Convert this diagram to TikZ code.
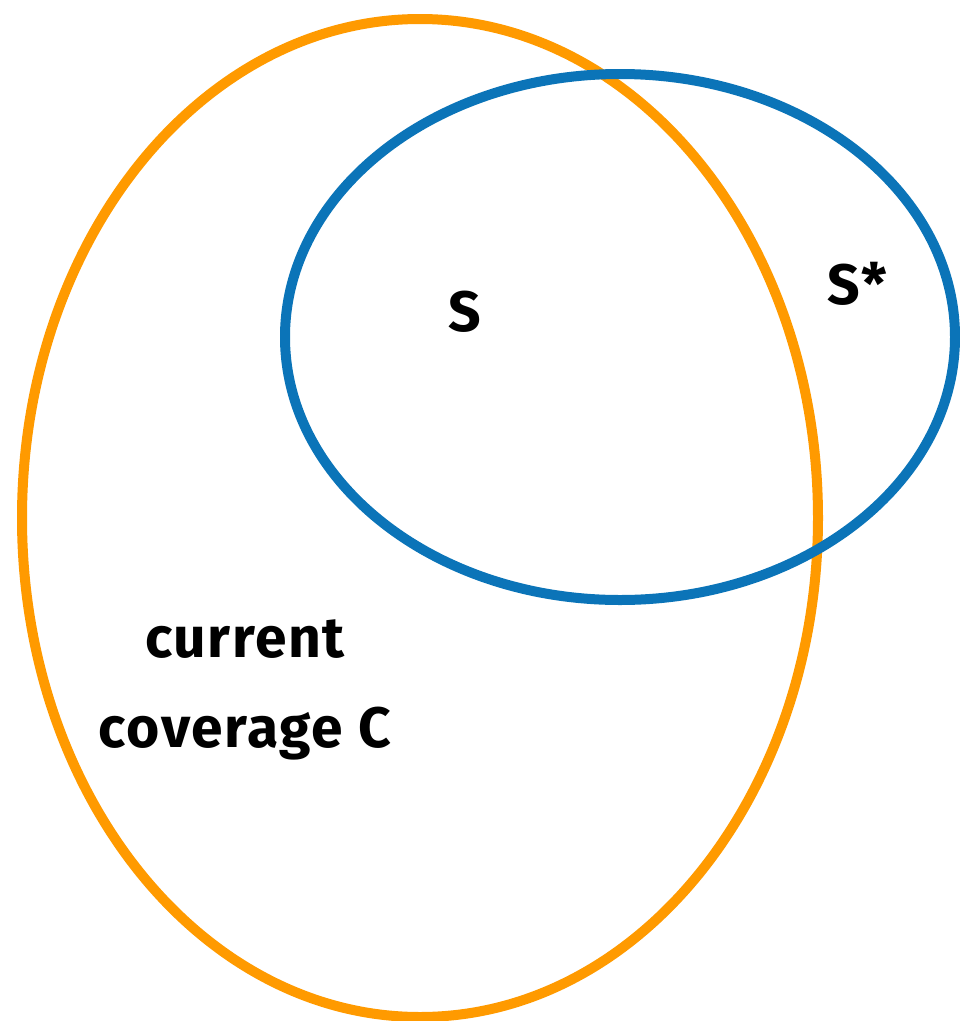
\documentclass[tikz,border=0pt]{standalone}
\usepackage{fontspec}
\setsansfont[LetterSpace=3]{Fira Sans}
\usetikzlibrary{positioning}
\definecolor{covCol}{HTML}{FF9A00}
\definecolor{setCol}{HTML}{0B74B8}

\begin{document}
\begin{tikzpicture}[
    x=1pt, y=-1pt,
    font=\sffamily\bfseries\fontsize{57}{66}\selectfont,
    ring/.style={line width=10pt},
    lab/.style={inner sep=0pt, anchor=base, text=black},
  ]
\useasboundingbox (0,0) rectangle (960,1021);

% Sets
\draw[ring, draw=covCol] (420,518) ellipse [x radius=398, y radius=499];
\draw[ring, draw=setCol] (620,337) ellipse [x radius=335, y radius=263];

% Labels
\node[lab] (s) at (465,331) {S};
\node[lab] (sstar) at (857,304) {S*};
\node[lab] (cur) at (245,657) {current};
\node[lab] (cov) at (245,747) {coverage C};

\end{tikzpicture}
\end{document}
